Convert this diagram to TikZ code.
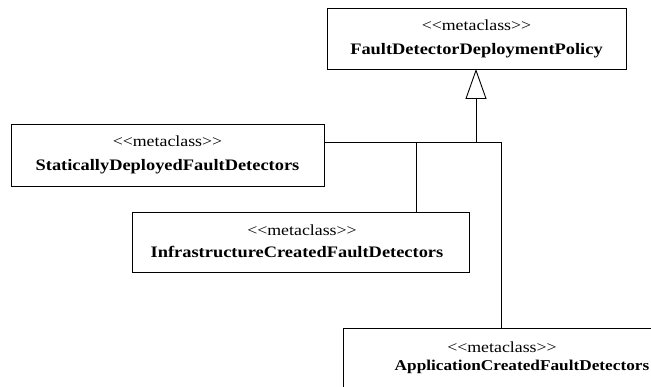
\documentclass[tikz,border=0pt]{standalone}
\usepackage{fontspec}
\newfontfamily\umlfont[FakeStretch=1.15]{Liberation Serif}
\usetikzlibrary{arrows.meta}
\tikzset{
  classbox/.style={draw=black, line width=0.9pt, fill=white},
  stereo/.style={font=\umlfont\fontsize{15.5}{18}\selectfont, inner sep=0pt},
  cname/.style={font=\umlfont\bfseries\fontsize{16}{19}\selectfont, inner sep=0pt},
  cnamesmall/.style={font=\umlfont\bfseries\fontsize{15}{18}\selectfont, inner sep=0pt},
  conn/.style={draw=black, line width=0.9pt},
  gen/.style={conn, -{Triangle[open, width=21pt, length=30pt, line width=0.9pt]}}
}
\begin{document}
\begin{tikzpicture}[x=1pt, y=-1pt]
\useasboundingbox (0,0) rectangle (651,387);
\clip (0,0) rectangle (651,387);
% boxes
\draw[classbox] (327,8) rectangle (626,69);
\coordinate (topb) at (476,69);
\draw[classbox] (11,124) rectangle (324,186);
\coordinate (lefte) at (324,142);
\draw[classbox] (132,212) rectangle (469,272);
\coordinate (infrat) at (416,212);
\draw[classbox] (343,328) rectangle (680,420);
\coordinate (appt) at (501,328);
% texts
\node[stereo] (s1) at (476.5,25) {<<metaclass>>};
\node[cname] (n1) at (476.5,51) {FaultDetectorDeploymentPolicy};
\node[stereo] (s2) at (167.5,141) {<<metaclass>>};
\node[cname] (n2) at (167.5,167) {StaticallyDeployedFaultDetectors};
\node[stereo] (s3) at (302,230) {<<metaclass>>};
\node[cname] (n3) at (297,252) {InfrastructureCreatedFaultDetectors};
\node[stereo] (s4) at (502,347) {<<metaclass>>};
\node[cnamesmall] (n4) at (522,367) {ApplicationCreatedFaultDetectors};
% connectors
\coordinate (jm) at (476,142);
\coordinate (ji) at (416,142);
\coordinate (ja) at (501,142);
\draw[gen] (jm) -- (topb);
\draw[conn] (lefte) -- (ja);
\draw[conn] (ji) -- (infrat);
\draw[conn] (ja) -- (appt);
\end{tikzpicture}
\end{document}
